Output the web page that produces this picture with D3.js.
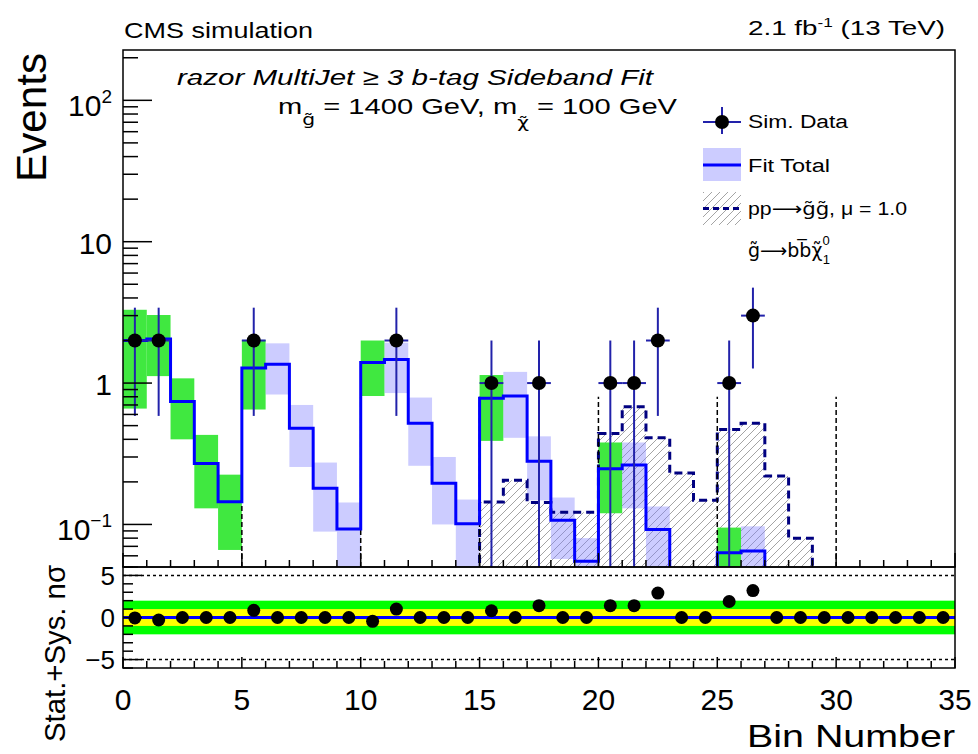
<!DOCTYPE html>
<html>
<head>
<meta charset="utf-8">
<script src="https://cdn.jsdelivr.net/npm/d3@7"></script>
<style>
  body { margin: 0; background: #fff; }
  text { font-family: "Liberation Sans", Arial, Helvetica, sans-serif; fill: #000; }
  .dv { font-family: "DejaVu Sans", sans-serif; }
</style>
</head>
<body>
<svg id="vis" width="978" height="754"></svg>
<script>
// bin i covers [i, i+1] on the Bin Number axis
const nBins = 35;
const fitTotal = [2.0, 2.05, 0.74, 0.27, 0.145, 1.28, 1.36, 0.48, 0.18, 0.093,
                  1.40, 1.47, 0.52, 0.196, 0.101, 0.78, 0.81, 0.28, 0.107, 0.055,
                  0.248, 0.263, 0.092, 0.03, 0.02, 0.063, 0.065, 0.025, 0.012, 0.006,
                  0.03, 0.012, 0.006, 0.004, 0.002];
const fitLow = [0.66, 1.12, 0.40, 0.13, 0.066, 0.65, 0.83, 0.255, 0.089, 0.03,
                0.81, 0.85, 0.26, 0.10, 0.03, 0.39, 0.41, 0.148, 0.057, 0.02,
                0.12, 0.13, 0.03, 0.005, 0.004, 0.02, 0.02, 0.005, 0.002, 0.001,
                0.005, 0.002, 0.001, 0.001, 0.001];
const fitHigh = [3.3, 3.03, 1.08, 0.43, 0.225, 2.02, 1.91, 0.70, 0.274, 0.143,
                 2.0, 1.93, 0.79, 0.30, 0.15, 1.14, 1.2, 0.42, 0.155, 0.08,
                 0.38, 0.38, 0.134, 0.045, 0.035, 0.095, 0.097, 0.045, 0.02, 0.01,
                 0.045, 0.02, 0.01, 0.008, 0.005];
const sidebandBins = [0, 1, 2, 3, 4, 5, 10, 15, 20, 25];
const signal = [0.004, 0.006, 0.003, 0.002, 0.001, 0.008, 0.01, 0.005, 0.003, 0.002,
                0.015, 0.02, 0.01, 0.006, 0.004, 0.144, 0.205, 0.143, 0.122, 0.122,
                0.44, 0.68, 0.41, 0.231, 0.148, 0.47, 0.52, 0.22, 0.080, 0.03,
                0.02, 0.01, 0.008, 0.005, 0.003];
const dataBins = [0, 1, 5, 11, 15, 17, 20, 21, 22, 25, 26];
const dataCounts = [2, 2, 2, 2, 1, 1, 1, 1, 2, 1, 3];
const pulls = [-0.05, -0.3, 0, 0, 0, 0.85, 0, 0, 0, 0,
               -0.45, 1.0, 0, 0, 0, 0.8, 0, 1.4, 0, 0,
               1.4, 1.4, 2.9, 0, 0, 1.9, 3.2, 0, 0, 0,
               0, 0, 0, 0, 0];
const groupEdges = [5, 10, 15, 20, 25, 30];
const edgeTop = 0.8;
const xTickLabels = [0, 5, 10, 15, 20, 25, 30, 35];
const yTickLabels = [{v: 0.1, base: "10", sup: "\u22121"}, {v: 1, base: "1", sup: ""},
                     {v: 10, base: "10", sup: ""}, {v: 100, base: "10", sup: "2"}];
const pullTickLabels = [{v: 5, t: "5"}, {v: 0, t: "0"}, {v: -5, t: "\u22125"}];

const BLUE = "#0000ff", NAVY = "#000080", ERR = "#2222aa";

function draw() {
    let svg = d3.select("#vis");
    let left = 123, right = 955, top = 50, mainBottom = 567, pullBottom = 668;

    let x = d3.scaleLinear().domain([0, nBins]).range([left, right]);
    let y = d3.scaleLog().domain([0.05, 227]).range([mainBottom, top]);
    let yp = d3.scaleLinear().domain([-6, 6]).range([pullBottom, mainBottom]);

    let defs = svg.append("defs");
    defs.append("clipPath").attr("id", "mainclip")
        .append("rect").attr("x", left).attr("y", top)
        .attr("width", right - left).attr("height", mainBottom - top);
    let hatch = defs.append("pattern").attr("id", "hatch")
        .attr("patternUnits", "userSpaceOnUse").attr("width", 8).attr("height", 8);
    hatch.append("path").attr("d", "M-2,2 L2,-2 M0,8 L8,0 M6,10 L10,6")
        .attr("stroke", "#9a9a9a").attr("stroke-width", 0.9);

    // ---- main panel ----
    let g = svg.append("g").attr("clip-path", "url(#mainclip)");

    // signal hatched area + dashed outline
    let stepPts = d3.range(nBins + 1).map(i => [i, signal[Math.min(i, nBins - 1)]]);
    g.append("path")
        .attr("d", d3.area().curve(d3.curveStepAfter)
            .x(d => x(d[0])).y0(mainBottom + 5).y1(d => y(d[1]))(stepPts))
        .attr("fill", "url(#hatch)");

    // fit uncertainty bands
    let bandData = d3.range(nBins).map(i => ({i: i, lo: fitLow[i], hi: fitHigh[i], side: sidebandBins.includes(i)}));
    g.selectAll(".band")
        .data(bandData)
        .enter().append("rect")
            .attr("class", "band")
            .attr("x", d => x(d.i))
            .attr("width", x(1) - x(0))
            .attr("y", d => y(d.hi))
            .attr("height", d => y(d.lo) - y(d.hi))
            .attr("fill", d => d.side ? "#40e840" : "#8080ff")
            .attr("fill-opacity", d => d.side ? 1 : 0.4);

    g.append("path")
        .attr("d", d3.line().curve(d3.curveStepAfter)
            .x(d => x(d[0])).y(d => y(d[1]))(stepPts))
        .attr("fill", "none")
        .attr("stroke", NAVY)
        .attr("stroke-width", 3)
        .attr("stroke-dasharray", "8,5");

    // sideband boundaries
    g.selectAll(".edge")
        .data(groupEdges)
        .enter().append("line")
            .attr("x1", d => x(d)).attr("x2", d => x(d))
            .attr("y1", mainBottom).attr("y2", y(edgeTop))
            .attr("stroke", "#000").attr("stroke-width", 1.5)
            .attr("stroke-dasharray", "5,3");

    // fit total
    let fitPts = d3.range(nBins + 1).map(i => [i, fitTotal[Math.min(i, nBins - 1)]]);
    g.append("path")
        .attr("d", d3.line().curve(d3.curveStepAfter)
            .x(d => x(d[0])).y(d => y(d[1]))(fitPts))
        .attr("fill", "none")
        .attr("stroke", BLUE)
        .attr("stroke-width", 3);

    // sim. data
    let pts = dataBins.map((b, k) => ({b: b, n: dataCounts[k]}));
    g.selectAll(".ey")
        .data(pts)
        .enter().append("line")
            .attr("x1", d => x(d.b + 0.5)).attr("x2", d => x(d.b + 0.5))
            .attr("y1", d => y(d.n + Math.sqrt(d.n)))
            .attr("y2", d => d.n - Math.sqrt(d.n) > 0 ? y(d.n - Math.sqrt(d.n)) : mainBottom + 5)
            .attr("stroke", ERR).attr("stroke-width", 2);
    g.selectAll(".ex")
        .data(pts)
        .enter().append("line")
            .attr("x1", d => x(d.b)).attr("x2", d => x(d.b + 1))
            .attr("y1", d => y(d.n)).attr("y2", d => y(d.n))
            .attr("stroke", ERR).attr("stroke-width", 2);
    g.selectAll(".dot")
        .data(pts)
        .enter().append("circle")
            .attr("cx", d => x(d.b + 0.5))
            .attr("cy", d => y(d.n))
            .attr("r", 7)
            .attr("fill", "#000");

    // main frame and ticks
    svg.append("rect").attr("x", left).attr("y", top)
        .attr("width", right - left).attr("height", mainBottom - top)
        .attr("fill", "none").attr("stroke", "#000").attr("stroke-width", 1.5);

    let ax = svg.append("g").attr("stroke", "#000").attr("stroke-width", 1.5);
    d3.range(0, nBins + 1).forEach(i => {
        let len = i % 5 === 0 ? 14 : 7;
        ax.append("line").attr("x1", x(i)).attr("x2", x(i))
            .attr("y1", mainBottom).attr("y2", mainBottom - len);
    });
    let yt = [];
    [0.01, 0.1, 1, 10, 100].forEach(dec => {
        for (let m = 1; m < 10; m++) yt.push({v: dec * m, major: m === 1});
    });
    yt.filter(d => d.v >= 0.05 && d.v <= 227).forEach(d => {
        ax.append("line").attr("x1", left).attr("x2", left + (d.major ? 29 : 15))
            .attr("y1", y(d.v)).attr("y2", y(d.v));
    });

    let ylab = svg.append("g");
    yTickLabels.forEach(d => {
        let t = ylab.append("text")
            .attr("x", 112).attr("y", y(d.v) + (d.sup ? 16 : 12))
            .attr("text-anchor", "end").attr("font-size", 30);
        t.append("tspan").text(d.base);
        if (d.sup) t.append("tspan").attr("dy", -13).attr("font-size", 19).text(d.sup);
    });

    // ---- pull panel ----
    let p = svg.append("g");
    p.append("rect").attr("x", left).attr("width", right - left)
        .attr("y", yp(2)).attr("height", yp(-2) - yp(2)).attr("fill", "#00ff00");
    p.append("rect").attr("x", left).attr("width", right - left)
        .attr("y", yp(1)).attr("height", yp(-1) - yp(1)).attr("fill", "#ffff00");
    [5, -5].forEach(v => {
        p.append("line").attr("x1", left).attr("x2", right)
            .attr("y1", yp(v)).attr("y2", yp(v))
            .attr("stroke", "#000").attr("stroke-width", 1.5).attr("stroke-dasharray", "3,3");
    });
    p.append("line").attr("x1", left).attr("x2", right)
        .attr("y1", yp(0)).attr("y2", yp(0))
        .attr("stroke", BLUE).attr("stroke-width", 3);
    p.selectAll(".pull")
        .data(pulls)
        .enter().append("circle")
            .attr("cx", (d, i) => x(i + 0.5))
            .attr("cy", d => yp(d))
            .attr("r", 6.5)
            .attr("fill", "#000");

    svg.append("rect").attr("x", left).attr("y", mainBottom)
        .attr("width", right - left).attr("height", pullBottom - mainBottom)
        .attr("fill", "none").attr("stroke", "#000").attr("stroke-width", 1.5);
    d3.range(0, nBins + 1).forEach(i => {
        let len = i % 5 === 0 ? 11 : 7;
        ax.append("line").attr("x1", x(i)).attr("x2", x(i))
            .attr("y1", pullBottom).attr("y2", pullBottom - len);
    });
    d3.range(-6, 7).forEach(v => {
        let len = v % 5 === 0 ? 19 : 10;
        ax.append("line").attr("x1", left).attr("x2", left + len)
            .attr("y1", yp(v)).attr("y2", yp(v));
    });
    ax.raise();

    pullTickLabels.forEach(d => {
        svg.append("text").attr("x", 115).attr("y", yp(d.v) + 9.5)
            .attr("text-anchor", "end").attr("font-size", 26).text(d.t);
    });
    xTickLabels.forEach(v => {
        svg.append("text").attr("x", x(v)).attr("y", 710)
            .attr("text-anchor", "middle").attr("font-size", 30).text(v);
    });

    // ---- titles ----
    svg.append("text").attr("x", right).attr("y", 747)
        .attr("text-anchor", "end").attr("font-size", 32)
        .attr("textLength", 208).attr("lengthAdjust", "spacingAndGlyphs")
        .text("Bin Number");
    svg.append("text").attr("transform", "translate(46,117.5) rotate(-90)")
        .attr("text-anchor", "middle").attr("font-size", 43)
        .attr("textLength", 129).attr("lengthAdjust", "spacingAndGlyphs")
        .text("Events");
    svg.append("text").attr("transform", "translate(65,653.5) rotate(-90)")
        .attr("text-anchor", "middle").attr("font-size", 29)
        .attr("textLength", 177).attr("lengthAdjust", "spacingAndGlyphs")
        .text("Stat.+Sys. n\u03c3");
    svg.append("text").attr("x", 124).attr("y", 37.7)
        .attr("font-size", 22).attr("textLength", 189).attr("lengthAdjust", "spacingAndGlyphs")
        .text("CMS simulation");
    let lumi = svg.append("text").attr("x", 945).attr("y", 35)
        .attr("text-anchor", "end").attr("font-size", 21)
        .attr("textLength", 197).attr("lengthAdjust", "spacingAndGlyphs");
    lumi.append("tspan").text("2.1 fb");
    lumi.append("tspan").attr("dy", -8).attr("font-size", 13).text("-1");
    lumi.append("tspan").attr("dy", 8).text(" (13 TeV)");

    svg.append("text").attr("x", 177).attr("y", 85)
        .attr("font-size", 22.5).attr("font-style", "italic")
        .attr("textLength", 476).attr("lengthAdjust", "spacingAndGlyphs")
        .text("razor MultiJet \u2265 3 b-tag Sideband Fit");
    let mass = svg.append("text").attr("x", 278).attr("y", 114)
        .attr("font-size", 21.5)
        .attr("textLength", 399).attr("lengthAdjust", "spacingAndGlyphs");
    mass.append("tspan").text("m");
    mass.append("tspan").attr("class", "dv").attr("dy", 11).attr("font-size", 15).text("g\u0303");
    mass.append("tspan").attr("dy", -11).text(" = 1400 GeV, m");
    mass.append("tspan").attr("class", "dv").attr("dy", 14).attr("font-size", 15).text("\u03c7\u0303");
    mass.append("tspan").attr("dy", -14).text(" = 100 GeV");

    // ---- legend ----
    let lg = svg.append("g");
    lg.append("line").attr("x1", 703).attr("x2", 741).attr("y1", 122).attr("y2", 122)
        .attr("stroke", ERR).attr("stroke-width", 2);
    lg.append("line").attr("x1", 722).attr("x2", 722).attr("y1", 107).attr("y2", 134)
        .attr("stroke", ERR).attr("stroke-width", 2);
    lg.append("circle").attr("cx", 722).attr("cy", 122).attr("r", 7).attr("fill", "#000");
    lg.append("text").attr("x", 748).attr("y", 128).attr("font-size", 18)
        .attr("textLength", 100).attr("lengthAdjust", "spacingAndGlyphs").text("Sim. Data");

    lg.append("rect").attr("x", 703).attr("y", 148).attr("width", 38).attr("height", 33)
        .attr("fill", "#ccccff");
    lg.append("line").attr("x1", 703).attr("x2", 741).attr("y1", 165).attr("y2", 165)
        .attr("stroke", BLUE).attr("stroke-width", 3);
    lg.append("text").attr("x", 748).attr("y", 172).attr("font-size", 18)
        .attr("textLength", 82).attr("lengthAdjust", "spacingAndGlyphs").text("Fit Total");

    lg.append("rect").attr("x", 703).attr("y", 192).attr("width", 38).attr("height", 33)
        .attr("fill", "url(#hatch)");
    lg.append("line").attr("x1", 703).attr("x2", 741).attr("y1", 208.5).attr("y2", 208.5)
        .attr("stroke", NAVY).attr("stroke-width", 3).attr("stroke-dasharray", "6,4");
    let sigText = lg.append("text").attr("x", 748).attr("y", 215).attr("font-size", 18)
        .attr("textLength", 159).attr("lengthAdjust", "spacingAndGlyphs");
    sigText.append("tspan").text("pp");
    sigText.append("tspan").attr("class", "dv").text("\u27f6g\u0303g\u0303");
    sigText.append("tspan").text(", \u03bc = 1.0");
    let decay = lg.append("text").attr("x", 748).attr("y", 257).attr("font-size", 19);
    decay.append("tspan").attr("class", "dv").text("g\u0303\u27f6bb\u0305\u03c7\u0303");
    decay.append("tspan").attr("dy", -12).attr("font-size", 13).text("0");
    decay.append("tspan").attr("dx", -7).attr("dy", 19).attr("font-size", 13).text("1");
}

document.addEventListener('DOMContentLoaded', () => {
    draw();
});
</script>
</body>
</html>
